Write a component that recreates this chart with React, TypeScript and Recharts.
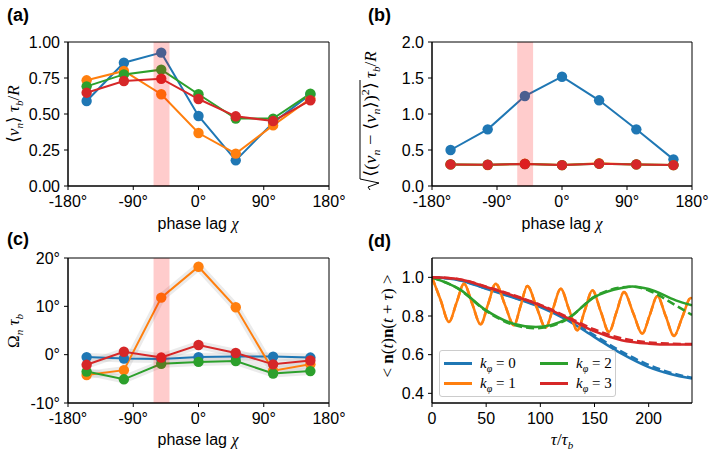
import React from 'react';
import { LineChart, Line, XAxis, YAxis, ReferenceArea } from 'recharts';

const C0 = '#1f77b4';
const C1 = '#ff7f0e';
const C2 = '#2ca02c';
const C3 = '#d62728';
const SERIES = ['k0', 'k1', 'k2', 'k3'];
const COLORS: Record<string, string> = { k0: C0, k1: C1, k2: C2, k3: C3 };

const FONT = "'Liberation Sans', Arial, sans-serif";
const MATH = "'Liberation Serif', 'DejaVu Serif', serif";

// phase lag chi (degrees)
const CHI = [-154.3, -102.9, -51.4, 0, 51.4, 102.9, 154.3];
const CHI_TICKS = [-180, -90, 0, 90, 180];
const BAND = [-62, -40];

// (a) mean speed
const A_K0 = [0.59, 0.856, 0.926, 0.486, 0.178, 0.44, 0.636];
const A_K1 = [0.734, 0.799, 0.637, 0.368, 0.225, 0.421, 0.607];
const A_K2 = [0.692, 0.775, 0.808, 0.637, 0.468, 0.468, 0.641];
const A_K3 = [0.648, 0.729, 0.745, 0.604, 0.484, 0.451, 0.595];
const A_TICKS = [0, 0.25, 0.5, 0.75, 1.0];

// (b) speed fluctuation
const B_K0 = [0.5, 0.787, 1.25, 1.518, 1.19, 0.787, 0.37];
const B_K1 = [0.3, 0.29, 0.31, 0.29, 0.315, 0.3, 0.29];
const B_K2 = [0.3, 0.295, 0.305, 0.29, 0.31, 0.3, 0.29];
const B_K3 = [0.3, 0.295, 0.305, 0.29, 0.31, 0.3, 0.29];
const B_TICKS = [0, 0.5, 1.0, 1.5, 2.0];

// (c) angular velocity (degrees)
const C_K0 = [-0.5, -0.8, -0.9, -0.5, -0.4, -0.4, -0.6];
const C_K1 = [-4.2, -3.2, 11.8, 18.2, 9.8, -3.3, -2.0];
const C_K2 = [-3.5, -5.1, -1.9, -1.5, -1.3, -3.9, -3.4];
const C_K3 = [-2.1, 0.6, -0.6, 2.0, 0.35, -2.0, -1.2];
const C_TICKS = [-10, 0, 10, 20];

// (d) orientation autocorrelation
const D_TICKS_X = [0, 50, 100, 150, 200];
const D_TICKS_Y = [0.4, 0.6, 0.8, 1.0];
const D_K0_T = [0, 25, 50, 75, 100, 125, 150, 175, 200, 220, 240];
const D_K0_V = [1.0, 0.985, 0.941, 0.895, 0.846, 0.778, 0.691, 0.605, 0.536, 0.5, 0.476];
const D_K0D_T = [0, 25, 50, 75, 100, 125, 150, 175, 200, 220, 240];
const D_K0D_V = [1.0, 0.986, 0.943, 0.897, 0.849, 0.783, 0.7, 0.616, 0.547, 0.507, 0.48];
const D_K1_T = [0, 7.8, 15.7, 22.6, 29.5, 37.2, 44.9, 51.8, 58.8, 67.2, 75.7, 81.8, 88.0, 96.4, 104.9, 111.8, 118.8, 126.5, 134.2, 141.1, 148.0, 155.7, 163.4, 170.3, 177.2, 185.7, 194.2, 201.1, 208.0, 215.7, 223.4, 231.1, 238.8, 240];
const D_K1_V = [1.0, 0.885, 0.769, 0.868, 0.967, 0.862, 0.757, 0.862, 0.967, 0.86, 0.752, 0.853, 0.955, 0.848, 0.74, 0.84, 0.941, 0.834, 0.726, 0.83, 0.933, 0.825, 0.717, 0.82, 0.924, 0.816, 0.709, 0.806, 0.903, 0.8, 0.697, 0.795, 0.893, 0.892];
const D_K2_T = [0, 25, 50, 75, 96, 125, 150, 175, 185, 200, 225, 240];
const D_K2_V = [1.0, 0.94, 0.829, 0.76, 0.743, 0.786, 0.898, 0.945, 0.953, 0.94, 0.881, 0.855];
const D_K2D_T = [0, 25, 50, 75, 96, 125, 150, 175, 185, 200, 225, 240];
const D_K2D_V = [1.0, 0.938, 0.826, 0.755, 0.737, 0.784, 0.9, 0.948, 0.952, 0.932, 0.855, 0.805];
const D_K3_T = [0, 25, 50, 75, 100, 125, 150, 175, 200, 220, 240];
const D_K3_V = [1.0, 0.99, 0.95, 0.905, 0.855, 0.79, 0.72, 0.675, 0.657, 0.652, 0.653];
const D_K3D_T = [0, 25, 50, 75, 100, 125, 150, 175, 200, 220, 240];
const D_K3D_V = [1.0, 0.99, 0.952, 0.908, 0.858, 0.795, 0.73, 0.685, 0.663, 0.657, 0.655];

const table = (k0: number[], k1: number[], k2: number[], k3: number[]) =>
  CHI.map((chi, i) => ({ chi, k0: k0[i], k1: k1[i], k2: k2[i], k3: k3[i] }));
const pts = (t: number[], v: number[]) => t.map((x, i) => ({ t: x, v: v[i] }));

const tickStyle = { fill: '#000', fontSize: 16, fontFamily: FONT };
const axisLine = { stroke: '#000', strokeWidth: 1 };

type PanelProps = {
  left: number; top: number; width: number; height: number;
  mTop: number; mRight: number; yWidth: number; xHeight: number;
  yDomain: [number, number]; yTicks: number[]; yFmt: (v: number) => string;
  data: any[]; errorBand?: boolean;
};

function Frame({ x, y }: { x: [number, number]; y: [number, number] }) {
  return (
    <ReferenceArea x1={x[0]} x2={x[1]} y1={y[0]} y2={y[1]} fill="none" fillOpacity={0}
      stroke="#000" strokeWidth={1} ifOverflow="visible" {...({ zIndex: 1600 } as any)} />
  );
}

function PhasePanel(p: PanelProps) {
  return (
    <div style={{ position: 'absolute', left: p.left, top: p.top }}>
      <LineChart width={p.width} height={p.height} data={p.data}
        margin={{ top: p.mTop, right: p.mRight, bottom: 0, left: 0 }}>
        <XAxis dataKey="chi" type="number" domain={[-180, 180]} ticks={CHI_TICKS}
          tickFormatter={(v: number) => `${v}°`} height={p.xHeight} tick={tickStyle}
          tickSize={4} tickMargin={6} axisLine={axisLine} tickLine={axisLine} interval={0} />
        <YAxis type="number" domain={p.yDomain} ticks={p.yTicks} tickFormatter={p.yFmt}
          width={p.yWidth} tick={tickStyle} tickSize={4} tickMargin={4} axisLine={axisLine}
          tickLine={axisLine} interval={0} />
        {p.errorBand && SERIES.map((k) => (
          <Line key={'e' + k} dataKey={k} type="linear" stroke="#b0b0b0" strokeOpacity={0.25}
            strokeWidth={8} dot={false} activeDot={false} isAnimationActive={false} />
        ))}
        {SERIES.map((k) => (
          <Line key={k} dataKey={k} type="linear" stroke={COLORS[k]} strokeWidth={2}
            dot={{ r: 5.2, fill: COLORS[k], stroke: 'none' }} activeDot={false}
            isAnimationActive={false} />
        ))}
        <ReferenceArea x1={BAND[0]} x2={BAND[1]} fill="#ff0000" fillOpacity={0.2}
          stroke="none" {...({ zIndex: 1500 } as any)} />
        <Frame x={[-180, 180]} y={p.yDomain} />
      </LineChart>
    </div>
  );
}

function CorrPanel() {
  const lines: [number[], number[], string, boolean][] = [
    [D_K0_T, D_K0_V, C0, false], [D_K0D_T, D_K0D_V, C0, true],
    [D_K1_T, D_K1_V, C1, false], [D_K1_T, D_K1_V, C1, true],
    [D_K2_T, D_K2_V, C2, false], [D_K2D_T, D_K2D_V, C2, true],
    [D_K3_T, D_K3_V, C3, false], [D_K3D_T, D_K3D_V, C3, true],
  ];
  return (
    <div style={{ position: 'absolute', left: 354, top: 225 }}>
      <LineChart width={355} height={226} margin={{ top: 33, right: 17, bottom: 0, left: 0 }}>
        <XAxis dataKey="t" type="number" domain={[0, 240]} ticks={D_TICKS_X} height={48}
          tick={tickStyle} tickSize={4} tickMargin={6} axisLine={axisLine} tickLine={axisLine}
          interval={0} allowDataOverflow />
        <YAxis type="number" domain={[0.35, 1.1]} ticks={D_TICKS_Y}
          tickFormatter={(v: number) => v.toFixed(1)} width={78} tick={tickStyle} tickSize={4}
          tickMargin={4} axisLine={axisLine} tickLine={axisLine} interval={0} allowDataOverflow />
        {lines.map(([t, v, c, dashed], i) => (
          <Line key={i} data={pts(t, v)} dataKey="v" type="monotone" stroke={c}
            strokeWidth={2.5} strokeDasharray={dashed ? '8 4' : undefined} dot={false}
            activeDot={false} isAnimationActive={false} />
        ))}
        <Frame x={[0, 240]} y={[0.35, 1.1]} />
      </LineChart>
    </div>
  );
}

function Legend() {
  const items = [
    { c: C0, n: '0', x: 4, y: 12 }, { c: C1, n: '1', x: 4, y: 32 },
    { c: C2, n: '2', x: 100, y: 12 }, { c: C3, n: '3', x: 100, y: 32 },
  ];
  return (
    <div style={{
      position: 'absolute', left: 439, top: 350, width: 177, height: 47,
      border: '1px solid #cccccc', borderRadius: 3, background: 'rgba(255,255,255,0.8)',
      boxSizing: 'border-box',
    }}>
      {items.map((it, i) => (
        <React.Fragment key={i}>
          <div style={{ position: 'absolute', left: it.x, top: it.y - 1.5, width: 28, height: 3, background: it.c }} />
          <div style={{ position: 'absolute', left: it.x + 36, top: it.y - 9, fontFamily: MATH, fontSize: 15, lineHeight: '18px', whiteSpace: 'nowrap' }}>
            <i>k</i><sub style={{ fontSize: 10, fontStyle: 'italic' }}>φ</sub> = {it.n}
          </div>
        </React.Fragment>
      ))}
    </div>
  );
}

function Overlay() {
  const sub = { fontSize: 11 } as any;
  return (
    <svg width={709} height={451} style={{ position: 'absolute', left: 0, top: 0, pointerEvents: 'none' }}>
      <g fontFamily={FONT} fontWeight="bold" fontSize={18} fill="#000">
        <text x={7} y={21}>(a)</text>
        <text x={368} y={21}>(b)</text>
        <text x={7} y={245}>(c)</text>
        <text x={368} y={247}>(d)</text>
      </g>
      <g fontFamily={FONT} fontSize={16} fill="#000" textAnchor="middle">
        <text x={198} y={229}>phase lag <tspan fontFamily={MATH} fontStyle="italic">χ</tspan></text>
        <text x={562} y={229}>phase lag <tspan fontFamily={MATH} fontStyle="italic">χ</tspan></text>
        <text x={198} y={445}>phase lag <tspan fontFamily={MATH} fontStyle="italic">χ</tspan></text>
      </g>
      <g fontFamily={MATH} fontSize={17} fill="#000">
        <text x={562} y={445} textAnchor="middle">
          <tspan fontStyle="italic">τ</tspan>/<tspan fontStyle="italic">τ</tspan>
          <tspan fontStyle="italic" style={sub} dy={4}>b</tspan>
        </text>
        <g transform="translate(19,114) rotate(-90)">
          <text x={0} y={0} textAnchor="middle">
            ⟨<tspan fontStyle="italic">v</tspan><tspan fontStyle="italic" style={sub} dy={4}>n</tspan>
            <tspan dy={-4}>⟩ </tspan><tspan fontStyle="italic">τ</tspan>
            <tspan fontStyle="italic" style={sub} dy={4}>b</tspan>
            <tspan dy={-4}>/</tspan><tspan fontStyle="italic">R</tspan>
          </text>
        </g>
        <g transform="translate(19,331) rotate(-90)">
          <text x={0} y={0} textAnchor="middle">
            Ω<tspan fontStyle="italic" style={sub} dy={4}>n</tspan>
            <tspan fontStyle="italic" dy={-4}> τ</tspan>
            <tspan fontStyle="italic" style={sub} dy={4}>b</tspan>
          </text>
        </g>
        <g transform="translate(393,326) rotate(-90)">
          <text x={0} y={0} textAnchor="middle">
            {'< '}<tspan fontWeight="bold">n</tspan>(<tspan fontStyle="italic">t</tspan>)
            <tspan fontWeight="bold">n</tspan>(<tspan fontStyle="italic">t</tspan> + <tspan fontStyle="italic">τ</tspan>){' >'}
          </text>
        </g>
        <g transform="translate(376,112) rotate(-90)">
          <path d="M -78 -6 L -75 -8 L -71 3 L -67 -16 L 32 -16" fill="none" stroke="#000" strokeWidth={1} />
          <text x={-65} y={0} textLength={95} lengthAdjust="spacingAndGlyphs">
            ⟨(<tspan fontStyle="italic">v</tspan><tspan fontStyle="italic" style={sub} dy={4}>n</tspan>
            <tspan dy={-4}> − ⟨</tspan><tspan fontStyle="italic">v</tspan>
            <tspan fontStyle="italic" style={sub} dy={4}>n</tspan><tspan dy={-4}>⟩)</tspan>
            <tspan style={sub} dy={-7}>2</tspan><tspan dy={7}>⟩</tspan>
          </text>
          <text x={34} y={0}>
            <tspan fontStyle="italic">τ</tspan><tspan fontStyle="italic" style={sub} dy={4}>b</tspan>
            <tspan dy={-4}>/</tspan><tspan fontStyle="italic">R</tspan>
          </text>
        </g>
      </g>
    </svg>
  );
}

export default function App() {
  return (
    <div style={{ position: 'absolute', left: 0, top: 0, width: 709, height: 451, background: '#fff', overflow: 'hidden' }}>
      <PhasePanel left={0} top={0} width={354} height={225} mTop={42} mRight={25} yWidth={68} xHeight={39}
        yDomain={[0, 1]} yTicks={A_TICKS} yFmt={(v) => v.toFixed(2)} data={table(A_K0, A_K1, A_K2, A_K3)} />
      <PhasePanel left={354} top={0} width={355} height={225} mTop={42} mRight={17} yWidth={78} xHeight={39}
        yDomain={[0, 2]} yTicks={B_TICKS} yFmt={(v) => v.toFixed(1)} data={table(B_K0, B_K1, B_K2, B_K3)} />
      <PhasePanel left={0} top={225} width={354} height={226} mTop={33} mRight={25} yWidth={68} xHeight={48}
        yDomain={[-10, 20]} yTicks={C_TICKS} yFmt={(v) => `${v}°`} data={table(C_K0, C_K1, C_K2, C_K3)} errorBand />
      <CorrPanel />
      <Legend />
      <Overlay />
    </div>
  );
}
